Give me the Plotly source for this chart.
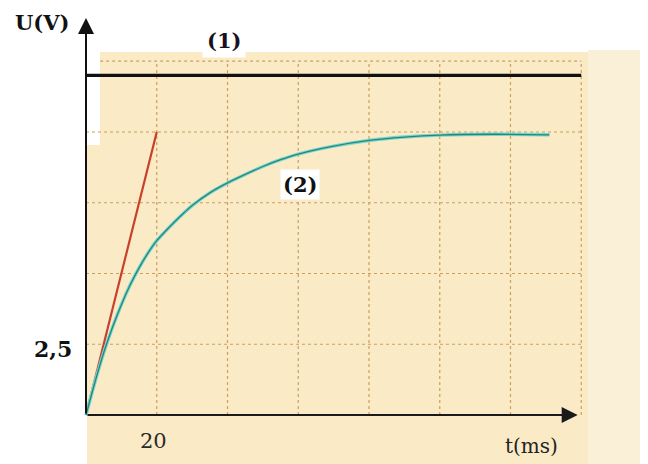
import plotly.graph_objects as go

# ---- data ----
t_curve = [0, 2.5, 5, 7.5, 10, 12.5, 15, 17.5, 20, 22.5, 25, 27.5, 30, 35, 40, 45, 50, 55, 60, 70, 80, 90, 100, 115, 131]
u_curve = [0, 1.15, 2.2, 3.1, 3.9, 4.6, 5.2, 5.72, 6.16, 6.5, 6.82, 7.12, 7.4, 7.85, 8.2, 8.5, 8.78, 9.02, 9.22, 9.5, 9.7, 9.82, 9.89, 9.92, 9.9]
t_tangent = [0, 20]
u_tangent = [0, 10]
t_line1 = [0, 140]
u_line1 = [12, 12]
x_grid = [20, 40, 60, 80, 100, 120, 140]
y_grid = [2.5, 5, 7.5, 10, 12.5]
x_tick_label = [(20, "20")]
y_tick_label = [(2.5, "2,5")]
t_axis_end = 139
u_axis_end = 14.03

# figure sits 8px inside the page (default body margin)
W, H = 640, 456
OFF = 8
X_RANGE = [-22.05, 158.87]
Y_RANGE = [-1.73, 14.38]


def fx(x):
    return (x - OFF) / W


def fy(y):
    return 1 - (y - OFF) / H


PAPER = "#FAEAC6"
GRID = "#C9A062"
SERIF = "DejaVu Serif, serif"

fig = go.Figure()

# paper background (styling)
shapes = [
    dict(type="rect", xref="paper", yref="paper", x0=fx(100), x1=1, y0=0, y1=fy(52),
         fillcolor=PAPER, line=dict(width=0), layer="below"),
    dict(type="rect", xref="paper", yref="paper", x0=fx(87), x1=fx(101), y0=0, y1=fy(145),
         fillcolor=PAPER, line=dict(width=0), layer="below"),
    dict(type="rect", xref="paper", yref="paper", x0=fx(588), x1=1, y0=0, y1=fy(50),
         fillcolor="#FAF0D8", line=dict(width=0), layer="below"),
]
# dotted grid
for xv in x_grid:
    shapes.append(dict(type="line", xref="x", yref="y", x0=xv, x1=xv, y0=0, y1=y_grid[-1],
                       line=dict(color=GRID, width=1.2, dash="dot"), layer="below"))
for yv in y_grid:
    shapes.append(dict(type="line", xref="x", yref="y", x0=0 if yv < 12 else 4, x1=x_grid[-1], y0=yv, y1=yv,
                       line=dict(color=GRID, width=1.2, dash="dot"), layer="below"))

# line (1)
fig.add_trace(go.Scatter(x=t_line1, y=u_line1, mode="lines",
                         line=dict(color="#111111", width=3.2), hoverinfo="skip"))
# tangent
fig.add_trace(go.Scatter(x=t_tangent, y=u_tangent, mode="lines",
                         line=dict(color="#C8402A", width=2.2), hoverinfo="skip"))
# curve (2): light halo + darker core
fig.add_trace(go.Scatter(x=t_curve, y=u_curve, mode="lines", line_shape="spline",
                         line=dict(color="#74D8CC", width=3.4, smoothing=0.8), hoverinfo="skip"))
fig.add_trace(go.Scatter(x=t_curve, y=u_curve, mode="lines", line_shape="spline",
                         line=dict(color="#2C8479", width=1.3, smoothing=0.8), hoverinfo="skip"))

annotations = []
# axes with arrows
annotations.append(dict(x=0, y=u_axis_end, ax=0, ay=0, xref="x", yref="y", axref="x", ayref="y",
                        text="", showarrow=True, arrowhead=2, arrowsize=1.6, arrowwidth=2, arrowcolor="#111111"))
annotations.append(dict(x=t_axis_end, y=0, ax=0, ay=0, xref="x", yref="y", axref="x", ayref="y",
                        text="", showarrow=True, arrowhead=2, arrowsize=1.6, arrowwidth=2, arrowcolor="#1a1a1a"))
# labels
annotations.append(dict(x=fx(42), y=1, xref="paper", yref="paper", text="<b>U(V)</b>", showarrow=False,
                        font=dict(family=SERIF, size=21, color="#111111"), xanchor="center", yanchor="top"))
annotations.append(dict(x=fx(531), y=fy(446), xref="paper", yref="paper", text="t(ms)", showarrow=False,
                        font=dict(family=SERIF, size=20, color="#222222"), xanchor="center", yanchor="middle"))
for xv, lab in x_tick_label:
    annotations.append(dict(x=xv - 0.8, y=fy(441), xref="x", yref="paper", text=lab, showarrow=False,
                            font=dict(family=SERIF, size=21, color="#2a2a2a"), xanchor="center", yanchor="middle"))
for yv, lab in y_tick_label:
    annotations.append(dict(x=fx(53), y=yv - 0.15, xref="paper", yref="y", text="<b>" + lab + "</b>", showarrow=False,
                            font=dict(family=SERIF, size=22, color="#111111"), xanchor="center", yanchor="middle"))
annotations.append(dict(x=fx(224), y=fy(40), xref="paper", yref="paper", text="<b>(1)</b>", showarrow=False,
                        bgcolor="white", borderpad=4,
                        font=dict(family=SERIF, size=21, color="#1a1020"), xanchor="center", yanchor="middle"))
annotations.append(dict(x=fx(300), y=fy(185), xref="paper", yref="paper", text="<b>(2)</b>", showarrow=False,
                        bgcolor="white", borderpad=2,
                        font=dict(family=SERIF, size=21, color="#111111"), xanchor="center", yanchor="middle"))

fig.update_layout(
    width=W, height=H, autosize=False,
    margin=dict(l=0, r=0, t=0, b=0),
    paper_bgcolor="white", plot_bgcolor="rgba(0,0,0,0)",
    showlegend=False,
    xaxis=dict(range=X_RANGE, visible=False, fixedrange=True),
    yaxis=dict(range=Y_RANGE, visible=False, fixedrange=True),
    shapes=shapes, annotations=annotations,
)

fig.write_html("out.html")
